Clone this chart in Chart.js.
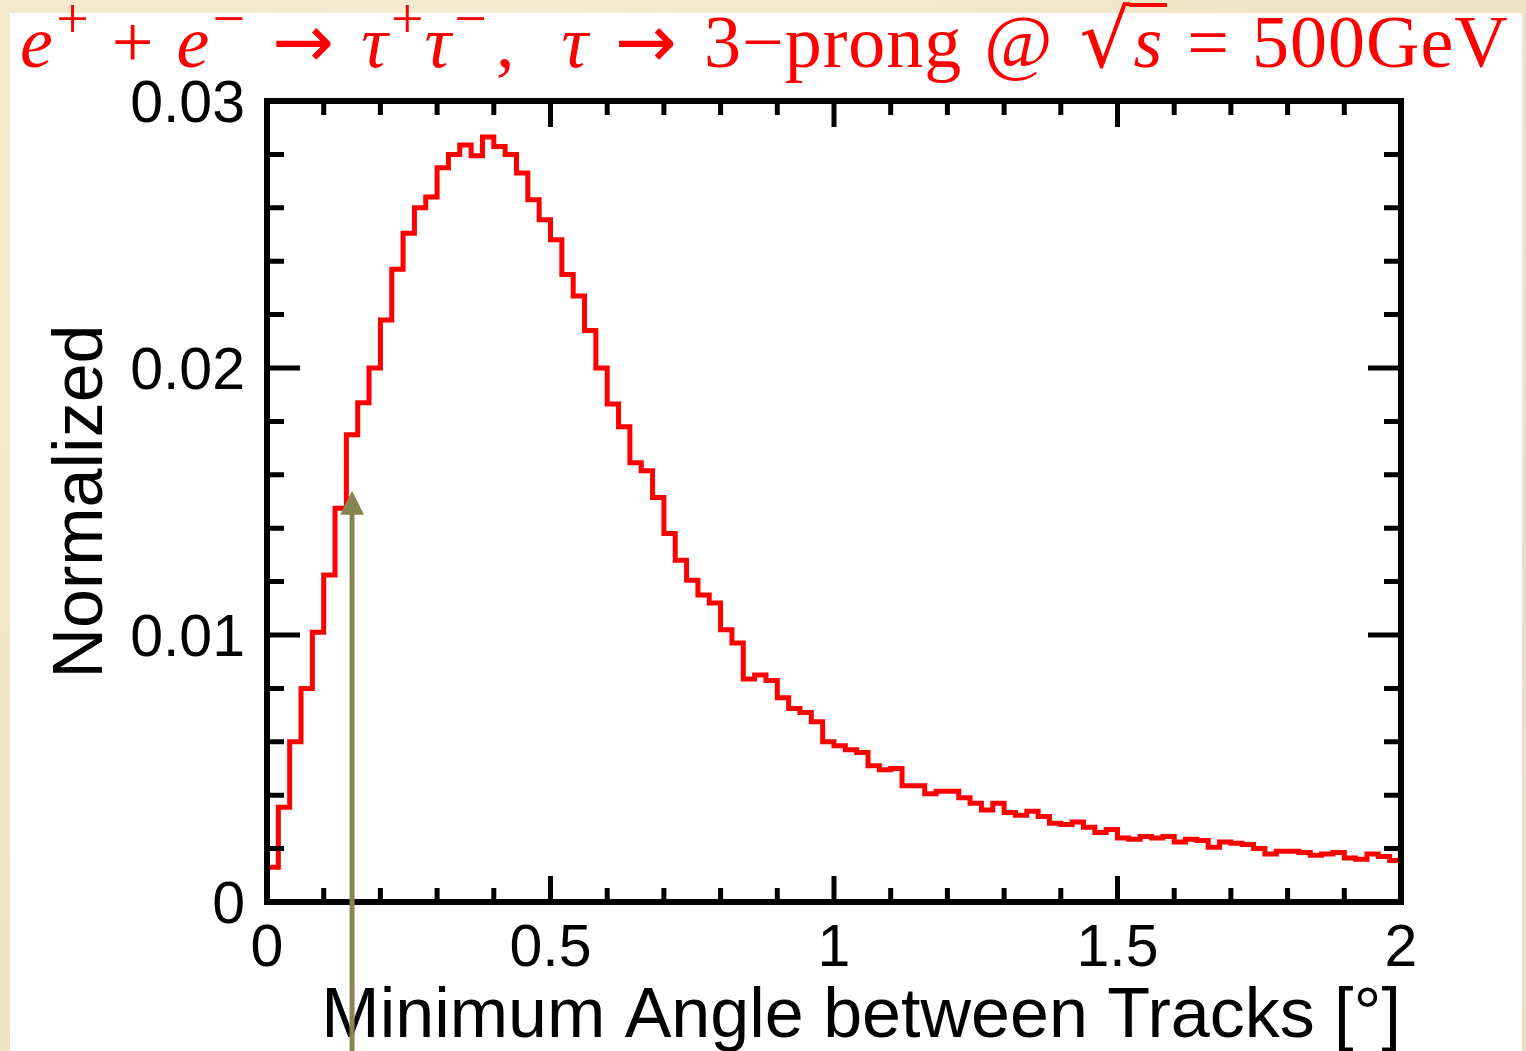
<!DOCTYPE html>
<html>
<head>
<meta charset="utf-8">
<script src="https://cdn.jsdelivr.net/npm/chart.js@4.4.1/dist/chart.umd.min.js"></script>
<style>
  html, body { margin: 0; padding: 0; }
  body {
    width: 1526px; height: 1051px; overflow: hidden; position: relative;
    background: #efe3c3;
    background-image: radial-gradient(ellipse at 30% 20%, rgba(255,250,230,0.5), rgba(225,210,170,0.25));
  }
  #sheet { position: absolute; left: 10px; top: 13px; width: 1512px; height: 1038px; background: #fff; }
  #title {
    position: absolute; left: 20px; top: 0px; white-space: nowrap;
    font-family: "Liberation Serif", "DejaVu Serif", serif; font-size: 74px; color: #ff0000;
    line-height: 80px; letter-spacing: 1px;
  }
  #title sup { font-size: 0.78em; vertical-align: 0; position: relative; top: -0.5em; margin-left: 0.04em; }
  #title .op { margin: 0 22px; }
  #title .arr { font-family: "DejaVu Sans", sans-serif; font-size: 1em; margin: 0 26px; }
  #title .rad { font-family: "DejaVu Sans", sans-serif; font-size: 1.08em; margin-left: 4px; }
  #title .vinc { border-top: 4px solid #ff0000; padding: 0 4px; margin-right: 20px; display: inline-block; line-height: 70px; margin-left: -2px; }
  #wrap { position: absolute; left: 0; top: 0; width: 1526px; height: 1051px; }
</style>
</head>
<body>
<div id="sheet"></div>
<div id="wrap"><canvas id="histo"></canvas></div>
<div id="title"><i>e</i><sup>+</sup><span class="op">+</span><i>e</i><sup>−</sup><span class="arr">→</span><i>τ</i><sup>+</sup><i>τ</i><sup>−</sup><span style="margin-left:8px">,</span><span style="margin-left:46px"><i>τ</i></span><span class="arr">→</span>3−prong<span class="op">@</span><span class="rad">√</span><span class="vinc"><i>s</i></span>=<span style="margin-left:22px">500GeV</span></div>
<script>
// minimum opening angle between tracks, 0.02 deg bins from 0 to 2 deg
const binWidth = 0.02;
const binContents = [
  0.00130, 0.00355, 0.00600, 0.00800, 0.01010, 0.01225, 0.01475, 0.01750, 0.01870, 0.02000,
  0.02180, 0.02370, 0.02505, 0.02600, 0.02640, 0.02750, 0.02800, 0.02835, 0.02795, 0.02865,
  0.02830, 0.02800, 0.02730, 0.02630, 0.02555, 0.02480, 0.02350, 0.02270, 0.02140, 0.02000,
  0.01865, 0.01780, 0.01645, 0.01615, 0.01515, 0.01380, 0.01280, 0.01205, 0.01150, 0.01120,
  0.01020, 0.00970, 0.00835, 0.00850, 0.00830, 0.00765, 0.00725, 0.00710, 0.00675, 0.00600,
  0.00585, 0.00570, 0.00560, 0.00510, 0.00495, 0.00500, 0.00435, 0.00435, 0.00405, 0.00415,
  0.00415, 0.00390, 0.00370, 0.00345, 0.00370, 0.00335, 0.00325, 0.00340, 0.00320, 0.00295,
  0.00290, 0.00300, 0.00280, 0.00260, 0.00272, 0.00240, 0.00235, 0.00245, 0.00240, 0.00245,
  0.00225, 0.00235, 0.00230, 0.00205, 0.00225, 0.00220, 0.00215, 0.00200, 0.00180, 0.00190,
  0.00190, 0.00185, 0.00175, 0.00180, 0.00185, 0.00165, 0.00160, 0.00180, 0.00170, 0.00155
];

const xMajorTicks = [0, 0.5, 1, 1.5, 2];
const xTickLabels = ['0', '0.5', '1', '1.5', '2'];
const yMajorTicks = [0, 0.01, 0.02, 0.03];
const yTickLabels = ['0', '0.01', '0.02', '0.03'];
const xMinorStep = 0.1;
const yMinorStep = 0.002;

// cut marker
const cutValue = 0.15;
const cutArrowTip = 0.0154;

// step points: left edge of every bin, then the right edge of the last one
const points = [{ x: 0, y: 0 }];
binContents.forEach((v, i) => points.push({ x: i * binWidth, y: v }));
points.push({ x: binContents.length * binWidth, y: binContents[binContents.length - 1] });

const frameAndTicks = {
  id: 'frameAndTicks',
  afterDatasetsDraw(chart) {
    const { ctx, chartArea: a, scales: { x, y } } = chart;
    ctx.save();
    ctx.strokeStyle = '#000';
    ctx.lineCap = 'butt';

    ctx.lineWidth = 5;
    for (let v = x.min; v <= x.max + 1e-9; v += xMinorStep) {
      const px = x.getPixelForValue(v);
      const major = xMajorTicks.some(t => Math.abs(t - v) < 1e-6);
      const len = major ? 26 : 14;
      ctx.beginPath();
      ctx.moveTo(px, a.bottom); ctx.lineTo(px, a.bottom - len);
      ctx.moveTo(px, a.top); ctx.lineTo(px, a.top + len);
      ctx.stroke();
    }
    for (let v = y.min; v <= y.max + 1e-9; v += yMinorStep) {
      const py = y.getPixelForValue(v);
      const major = yMajorTicks.some(t => Math.abs(t - v) < 1e-6);
      const len = major ? 33 : 17;
      ctx.beginPath();
      ctx.moveTo(a.left, py); ctx.lineTo(a.left + len, py);
      ctx.moveTo(a.right, py); ctx.lineTo(a.right - len, py);
      ctx.stroke();
    }

    ctx.lineWidth = 6;
    ctx.strokeRect(a.left, a.top, a.right - a.left, a.bottom - a.top);
    ctx.restore();
  },
  afterDraw(chart) {
    const { ctx, scales: { x, y } } = chart;
    const px = x.getPixelForValue(cutValue);
    const tip = y.getPixelForValue(cutArrowTip);
    ctx.save();
    ctx.strokeStyle = '#868553';
    ctx.fillStyle = '#868553';
    ctx.lineWidth = 5;
    ctx.beginPath();
    ctx.moveTo(px, chart.height);
    ctx.lineTo(px, tip + 20);
    ctx.stroke();
    ctx.beginPath();
    ctx.moveTo(px, tip);
    ctx.lineTo(px - 12, tip + 24);
    ctx.lineTo(px + 12, tip + 24);
    ctx.closePath();
    ctx.fill();
    ctx.restore();
  }
};

const tickFont = { family: '"Liberation Sans", Arial, sans-serif', size: 59 };
const titleFont = { family: '"Liberation Sans", Arial, sans-serif', size: 70 };

new Chart(document.getElementById('histo'), {
  type: 'line',
  data: {
    datasets: [{
      data: points,
      stepped: 'before',
      borderColor: '#ff0000',
      borderWidth: 5,
      pointRadius: 0,
      fill: false
    }]
  },
  options: {
    responsive: true,
    maintainAspectRatio: false,
    animation: false,
    events: [],
    layout: { padding: { top: 101, right: 125, left: 0, bottom: 0 } },
    plugins: { legend: { display: false }, tooltip: { enabled: false } },
    scales: {
      x: {
        type: 'linear',
        min: 0, max: 2,
        border: { display: false },
        grid: { display: false, drawTicks: false },
        afterBuildTicks: s => { s.ticks = xMajorTicks.map(v => ({ value: v })); },
        afterFit: s => { s.height = 149; },
        ticks: {
          color: '#000', font: tickFont, padding: 12, maxRotation: 0,
          callback: (v) => xTickLabels[xMajorTicks.indexOf(v)]
        },
        title: {
          display: true, text: 'Minimum Angle between Tracks [°]', align: 'end',
          color: '#000', font: { ...titleFont, lineHeight: 0.95 }, padding: { top: 0, bottom: 0 }
        }
      },
      y: {
        type: 'linear',
        min: 0, max: 0.03,
        border: { display: false },
        grid: { display: false, drawTicks: false },
        afterBuildTicks: s => { s.ticks = yMajorTicks.map(v => ({ value: v })); },
        afterFit: s => { s.width = 267; },
        ticks: {
          color: '#000', font: tickFont, padding: 22, labelOffset: 5,
          callback: (v) => yTickLabels[yMajorTicks.indexOf(v)]
        },
        title: {
          display: true, text: 'Normalized',
          color: '#000', font: { ...titleFont, lineHeight: 1.1 }, padding: { top: 44, bottom: 0 }
        }
      }
    }
  },
  plugins: [frameAndTicks]
});
</script>
</body>
</html>
